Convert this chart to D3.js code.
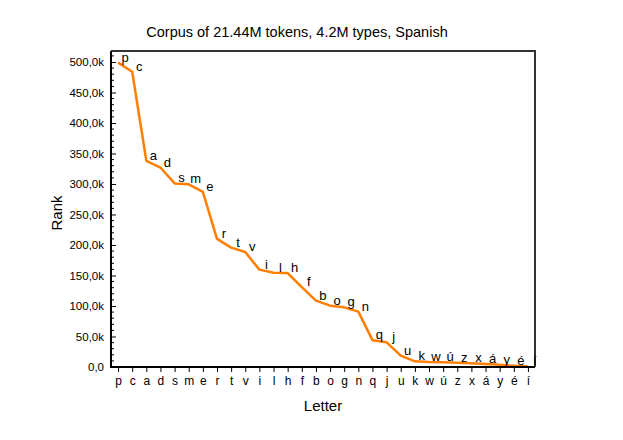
<!DOCTYPE html>
<html><head><meta charset="utf-8">
<script src="https://cdn.jsdelivr.net/npm/d3@7"></script>
<style>body{margin:0;background:#fff}text{font-family:"Liberation Sans",Arial,sans-serif}</style>
</head><body>
<svg id="c" width="623" height="440"></svg>
<script>
const letters = ["p","c","a","d","s","m","e","r","t","v","i","l","h","f","b","o","g","n","q","j","u","k","w","ú","z","x","á","y","é","í"];
const ranks = [499000,484000,338000,327000,301000,299500,287000,210000,195600,188500,159600,154600,154000,131000,108700,100500,97800,90700,44000,40400,18600,9300,8200,7800,7000,6000,5000,3500,2000,1000];
const yTicks = [0,50000,100000,150000,200000,250000,300000,350000,400000,450000,500000];
const title = "Corpus of 21.44M tokens, 4.2M types, Spanish";

const svg = d3.select("#c");
const L=111,R=535,T=51,B=367;
const x = d3.scalePoint().domain(letters).range([L,R]).padding(0.5);
const y = d3.scaleLinear().domain([0,518000]).range([B,T]);

const fmt = v => v===0 ? "0,0" : (v/1000).toFixed(1).replace(".",",")+"k";

// minor y ticks
const minor = d3.range(0,518000,10000).filter(v=>v%50000!==0);
svg.append("g").selectAll("line").data(minor).join("line")
  .attr("x1",L).attr("x2",L+3).attr("y1",d=>y(d)).attr("y2",d=>y(d))
  .attr("stroke","#000").attr("stroke-width",1);

const ya = svg.append("g").attr("transform",`translate(${L},0)`)
  .call(d3.axisLeft(y).tickValues(yTicks).tickFormat(fmt).tickSizeInner(-5).tickSizeOuter(0).tickPadding(7));
ya.select(".domain").remove();
ya.selectAll("text").attr("font-size","11.5px").attr("fill","#000").attr("font-family","Liberation Sans, Arial, sans-serif");
ya.selectAll("line").attr("stroke","#000");

const xa = svg.append("g").attr("transform",`translate(0,${B})`)
  .call(d3.axisBottom(x).tickSizeInner(5).tickSizeOuter(0).tickPadding(4));
xa.select(".domain").remove();
xa.selectAll("text").attr("font-size","12px").attr("fill","#000").attr("font-family","Liberation Sans, Arial, sans-serif");
xa.selectAll("line").attr("stroke","#000");

// line
const line = d3.line().x((d,i)=>x(letters[i])).y(d=>y(d));
svg.append("path").datum(ranks).attr("d",line)
  .attr("fill","none").attr("stroke","#ff7f00").attr("stroke-width",2.5).attr("stroke-linejoin","round");

// frame
svg.append("path").attr("d",`M${L},${T}H${R}V${B}`).attr("fill","none").attr("stroke","#333").attr("stroke-width",2);
svg.append("path").attr("d",`M${L},${T}V${B}H${R}`).attr("fill","none").attr("stroke","#000").attr("stroke-width",2);

// point labels
svg.append("g").selectAll("text").data(ranks).join("text")
  .attr("x",(d,i)=>x(letters[i])+7).attr("y",d=>y(d)-1)
  .attr("text-anchor","middle").attr("font-size","13px").attr("fill","#000")
  .text((d,i)=>letters[i]);

svg.append("text").attr("x",297).attr("y",37).attr("text-anchor","middle").attr("font-size","14.5px").text(title);
svg.append("text").attr("x",323).attr("y",411).attr("text-anchor","middle").attr("font-size","15px").text("Letter");
svg.append("text").attr("transform","translate(62,213) rotate(-90)").attr("text-anchor","middle").attr("font-size","15px").text("Rank");
</script>
</body></html>
